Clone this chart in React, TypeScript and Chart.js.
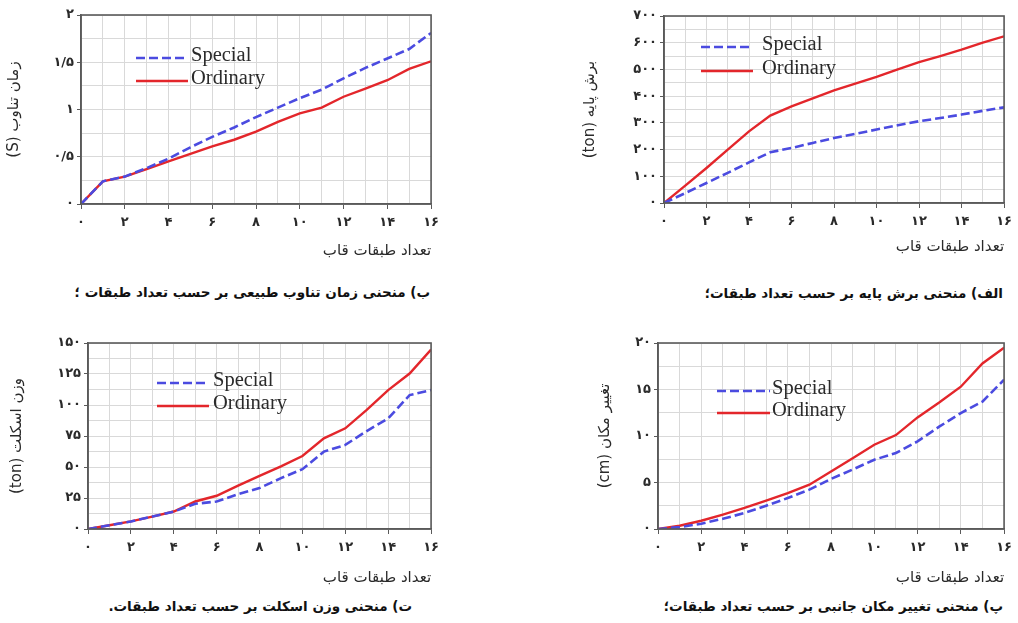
import React, { useEffect, useRef } from 'react';
import { Chart, registerables } from 'chart.js';

Chart.register(...registerables);

// ---------------- data ----------------
const floors = [0, 1, 2, 3, 4, 5, 6, 7, 8, 9, 10, 11, 12, 13, 14, 15, 16];
const seriesLabels = ['Special', 'Ordinary'];

const xTickValues = [0, 2, 4, 6, 8, 10, 12, 14, 16];
const xTickLabels = ['۰', '۲', '۴', '۶', '۸', '۱۰', '۱۲', '۱۴', '۱۶'];
const xAxisTitle = 'تعداد طبقات قاب';

// (ب) natural period
const periodSpecial = [0, 0.24, 0.29, 0.38, 0.48, 0.6, 0.71, 0.81, 0.92, 1.02, 1.12, 1.21, 1.33, 1.44, 1.54, 1.64, 1.81];
const periodOrdinary = [0, 0.24, 0.29, 0.37, 0.45, 0.53, 0.61, 0.68, 0.765, 0.87, 0.96, 1.02, 1.135, 1.22, 1.31, 1.43, 1.51];
const periodTickValues = [0, 0.5, 1, 1.5, 2];
const periodTickLabels = ['۰', '۰/۵', '۱', '۱/۵', '۲'];

// (الف) base shear
const shearSpecial = [0, 37, 75, 113, 152, 190, 206, 225, 243, 259, 275, 291, 306, 318, 331, 345, 358];
const shearOrdinary = [0, 65, 131, 200, 268, 327, 362, 392, 422, 447, 472, 500, 527, 550, 574, 600, 624];
const shearTickValues = [0, 100, 200, 300, 400, 500, 600, 700];
const shearTickLabels = ['۰', '۱۰۰', '۲۰۰', '۳۰۰', '۴۰۰', '۵۰۰', '۶۰۰', '۷۰۰'];

// (ت) frame weight
const weightSpecial = [0, 3, 6.1, 10, 14.1, 20.3, 22.2, 28, 33, 41, 48.2, 62.4, 67.8, 79, 89.2, 108, 112];
const weightOrdinary = [0, 3, 6.1, 10, 14.1, 22.2, 26.8, 35, 42.8, 50.5, 58.9, 73.1, 81.2, 96, 112, 125.4, 144.7];
const weightTickValues = [0, 25, 50, 75, 100, 125, 150];
const weightTickLabels = ['۰', '۲۵', '۵۰', '۷۵', '۱۰۰', '۱۲۵', '۱۵۰'];

// (پ) lateral displacement
const dispSpecial = [0, 0.2, 0.57, 1.1, 1.72, 2.5, 3.33, 4.23, 5.38, 6.4, 7.45, 8.17, 9.42, 11.0, 12.47, 13.7, 16.05];
const dispOrdinary = [0, 0.35, 0.89, 1.55, 2.26, 3.05, 3.87, 4.76, 6.19, 7.6, 9.06, 10.1, 12.0, 13.6, 15.3, 17.8, 19.5];
const dispTickValues = [0, 5, 10, 15, 20];
const dispTickLabels = ['۰', '۵', '۱۰', '۱۵', '۲۰'];

// ---------------- styles ----------------
const SPECIAL_COLOR = '#4b4be0';
const ORDINARY_COLOR = '#e3262b';
const GRID_COLOR = '#d9d9d9';
const FRAME_COLOR = '#5a5a5a';
const TEXT_COLOR = '#2a2a2a';
const FA_FONT = "'DejaVu Sans', sans-serif";

function labelFor(values: number[], labels: string[], v: number): string {
  for (let i = 0; i < values.length; i++) {
    if (Math.abs(values[i] - v) < 1e-6) return labels[i];
  }
  return '';
}
function isLabelled(values: number[], v: number): boolean {
  return values.some((t) => Math.abs(t - v) < 1e-6);
}

const framePlugin = {
  id: 'frame',
  afterDraw(chart: any) {
    const { ctx, chartArea } = chart;
    ctx.save();
    ctx.strokeStyle = FRAME_COLOR;
    ctx.lineWidth = 1.6;
    ctx.strokeRect(chartArea.left, chartArea.top, chartArea.right - chartArea.left, chartArea.bottom - chartArea.top);
    ctx.restore();
  },
};

const insideLegendPlugin = {
  id: 'insideLegend',
  afterDraw(chart: any, _args: any, opts: any) {
    const { ctx } = chart;
    ctx.save();
    chart.data.datasets.forEach((ds: any, i: number) => {
      const y = opts.y + i * opts.rowHeight;
      ctx.beginPath();
      ctx.strokeStyle = ds.borderColor;
      ctx.lineWidth = ds.borderWidth;
      ctx.setLineDash(ds.borderDash || []);
      ctx.moveTo(opts.x, y + 2);
      ctx.lineTo(opts.x + opts.sampleWidth, y + 2);
      ctx.stroke();
      ctx.setLineDash([]);
      ctx.fillStyle = TEXT_COLOR;
      ctx.font = "20.5px 'Liberation Serif', serif";
      ctx.textAlign = 'left';
      ctx.textBaseline = 'middle';
      ctx.fillText(ds.label, opts.x + opts.sampleWidth + opts.gap, y);
    });
    ctx.restore();
  },
};

interface PanelProps {
  left: number;
  top: number;
  width: number;
  height: number;
  plotLeft: number;
  plotTop: number;
  plotRight: number;
  plotBottom: number;
  special: number[];
  ordinary: number[];
  yMax: number;
  yStep: number;
  yTickValues: number[];
  yTickLabels: string[];
  yTitle: string;
  yTitlePad: number;
  xTitlePad: number;
  legend: { x: number; y: number; sampleWidth: number; gap: number; rowHeight: number };
}

function Panel(p: PanelProps) {
  const ref = useRef<HTMLCanvasElement>(null);
  useEffect(() => {
    if (!ref.current) return;
    const yAxisWidth = p.plotLeft;
    const xAxisHeight = p.height - p.plotBottom;
    const chart = new Chart(ref.current, {
      type: 'line',
      data: {
        datasets: [
          {
            label: seriesLabels[0],
            data: floors.map((f, i) => ({ x: f, y: p.special[i] })),
            borderColor: SPECIAL_COLOR,
            borderWidth: 2.6,
            borderDash: [9, 4],
            pointRadius: 0,
            tension: 0,
            fill: false,
          },
          {
            label: seriesLabels[1],
            data: floors.map((f, i) => ({ x: f, y: p.ordinary[i] })),
            borderColor: ORDINARY_COLOR,
            borderWidth: 2.4,
            pointRadius: 0,
            tension: 0,
            fill: false,
          },
        ],
      },
      options: {
        animation: false,
        responsive: false,
        maintainAspectRatio: false,
        events: [],
        layout: { padding: { left: 0, top: p.plotTop, right: p.width - p.plotRight, bottom: 0 } },
        plugins: {
          legend: { display: false },
          tooltip: { enabled: false },
          insideLegend: p.legend,
        } as any,
        scales: {
          x: {
            type: 'linear',
            min: 0,
            max: 16,
            afterFit: (s: any) => {
              s.height = xAxisHeight;
            },
            ticks: {
              stepSize: 1,
              autoSkip: false,
              maxRotation: 0,
              padding: 6,
              color: TEXT_COLOR,
              font: { family: FA_FONT, size: 13, weight: 'bold' },
              callback: (v: any) => labelFor(xTickValues, xTickLabels, Number(v)),
            },
            grid: {
              color: GRID_COLOR,
              lineWidth: 1,
              tickLength: 5,
              tickColor: (c: any) => (c.tick && isLabelled(xTickValues, c.tick.value) ? FRAME_COLOR : 'rgba(0,0,0,0)'),
            },
            border: { color: FRAME_COLOR, width: 1.6 },
            title: {
              display: true,
              text: xAxisTitle,
              align: 'end',
              color: TEXT_COLOR,
              font: { family: FA_FONT, size: 15 },
              padding: { top: 0, bottom: p.xTitlePad },
            },
          },
          y: {
            type: 'linear',
            min: 0,
            max: p.yMax,
            afterFit: (s: any) => {
              s.width = yAxisWidth;
            },
            ticks: {
              stepSize: p.yStep,
              autoSkip: false,
              padding: 3,
              color: TEXT_COLOR,
              font: { family: FA_FONT, size: 13, weight: 'bold' },
              callback: (v: any) => labelFor(p.yTickValues, p.yTickLabels, Number(v)),
            },
            grid: {
              color: GRID_COLOR,
              lineWidth: 1,
              tickLength: 4,
              tickColor: (c: any) => (c.tick && isLabelled(p.yTickValues, c.tick.value) ? FRAME_COLOR : 'rgba(0,0,0,0)'),
            },
            border: { color: FRAME_COLOR, width: 1.6 },
            title: {
              display: true,
              text: p.yTitle,
              align: 'center',
              color: TEXT_COLOR,
              font: { family: FA_FONT, size: 15 },
              padding: { top: p.yTitlePad, bottom: 0 },
            },
          },
        },
      } as any,
      plugins: [framePlugin, insideLegendPlugin],
    });
    return () => chart.destroy();
  }, []);
  return (
    <canvas
      ref={ref}
      width={p.width}
      height={p.height}
      dir="rtl"
      style={{ position: 'absolute', left: p.left, top: p.top, width: p.width, height: p.height, direction: 'rtl' }}
    />
  );
}

const captionStyle = (right: number, top: number): React.CSSProperties => ({
  position: 'absolute',
  right: 1018 - right,
  top,
  direction: 'rtl',
  whiteSpace: 'nowrap',
  fontFamily: FA_FONT,
  fontWeight: 'bold',
  fontSize: 13.5,
  color: '#111',
  lineHeight: '18px',
});

export default function App() {
  return (
    <div style={{ position: 'absolute', left: 0, top: 0, width: 1018, height: 623, background: '#fff', overflow: 'hidden' }}>
      <Panel
        left={0}
        top={0}
        width={445}
        height={265}
        plotLeft={81}
        plotTop={15}
        plotRight={432}
        plotBottom={204}
        special={periodSpecial}
        ordinary={periodOrdinary}
        yMax={2}
        yStep={0.25}
        yTickValues={periodTickValues}
        yTickLabels={periodTickLabels}
        yTitle="زمان تناوب (S)"
        yTitlePad={5}
        xTitlePad={5}
        legend={{ x: 136, y: 56, sampleWidth: 52, gap: 3, rowHeight: 23 }}
      />
      <Panel
        left={560}
        top={0}
        width={458}
        height={265}
        plotLeft={104}
        plotTop={16}
        plotRight={446}
        plotBottom={203}
        special={shearSpecial}
        ordinary={shearOrdinary}
        yMax={700}
        yStep={50}
        yTickValues={shearTickValues}
        yTickLabels={shearTickLabels}
        yTitle="برش پایه (ton)"
        yTitlePad={21}
        xTitlePad={9}
        legend={{ x: 141, y: 45, sampleWidth: 52, gap: 9, rowHeight: 24 }}
      />
      <Panel
        left={0}
        top={320}
        width={445}
        height={270}
        plotLeft={88}
        plotTop={23}
        plotRight={432}
        plotBottom={209}
        special={weightSpecial}
        ordinary={weightOrdinary}
        yMax={150}
        yStep={12.5}
        yTickValues={weightTickValues}
        yTickLabels={weightTickLabels}
        yTitle="وزن اسکلت (ton)"
        yTitlePad={8}
        xTitlePad={3}
        legend={{ x: 157, y: 61, sampleWidth: 52, gap: 4, rowHeight: 23 }}
      />
      <Panel
        left={560}
        top={320}
        width={458}
        height={270}
        plotLeft={98}
        plotTop={23}
        plotRight={446}
        plotBottom={209}
        special={dispSpecial}
        ordinary={dispOrdinary}
        yMax={20}
        yStep={2.5}
        yTickValues={dispTickValues}
        yTickLabels={dispTickLabels}
        yTitle="تغییر مکان (cm)"
        yTitlePad={36}
        xTitlePad={3}
        legend={{ x: 157, y: 69, sampleWidth: 53, gap: 2, rowHeight: 22 }}
      />
      <div style={captionStyle(430, 283)}>ب) منحنی زمان تناوب طبیعی بر حسب تعداد طبقات ؛</div>
      <div style={captionStyle(1003, 284)}>الف) منحنی برش پایه بر حسب تعداد طبقات؛</div>
      <div style={captionStyle(412, 597)}>ت) منحنی وزن اسکلت بر حسب تعداد طبقات.</div>
      <div style={captionStyle(1003, 597)}>پ) منحنی تغییر مکان جانبی بر حسب تعداد طبقات؛</div>
    </div>
  );
}
